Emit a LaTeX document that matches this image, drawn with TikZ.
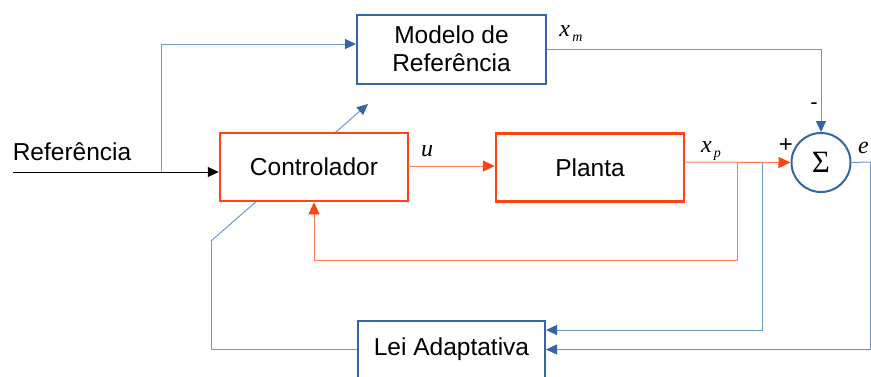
\documentclass[tikz,border=0pt]{standalone}
\usepackage{fontspec}
\setmainfont{Liberation Sans}
\newfontfamily\serifa{Liberation Serif}
\usetikzlibrary{arrows.meta}
\definecolor{azul}{HTML}{3465A4}
\definecolor{azulclaro}{HTML}{6E98CC}
\definecolor{laranja}{HTML}{FF4411}
\definecolor{laranjaclaro}{HTML}{FF7A55}
\newcommand{\var}[2]{\textit{#1}\raisebox{-5pt}{\fontsize{14}{14}\selectfont\,\textit{#2}}}

\begin{document}
\begin{tikzpicture}[x=1pt, y=-1pt,
	bloco/.style={draw, fill=white, line width=2pt, minimum width=188pt, minimum height=68pt, align=center, font=\fontsize{24.5}{28}\selectfont},
	blocoazul/.style={bloco, draw=azul},
	blocolaranja/.style={bloco, draw=laranja, line width=2.5pt},
	fio/.style={line width=1pt},
	fioazul/.style={fio, azulclaro, -{Triangle[length=11pt,width=10pt,color=azul]}},
	fiolaranja/.style={fio, laranjaclaro, -{Triangle[length=12pt,width=11pt,color=laranja]}},
	rotulo/.style={font=\serifa\fontsize{24}{26}\selectfont}]
	\useasboundingbox (0,0) rectangle (871,376);
	\clip (0,0) rectangle (871,376);

	\coordinate (ent) at (13,172);
	\coordinate (ramo) at (161.5,172);
	\coordinate (u0) at (408,166);
	\coordinate (adI) at (211,241);
	\coordinate (adF) at (368,104);
	\coordinate (xpa) at (737,162);
	\coordinate (xpb) at (762,162);
	\coordinate (fim) at (870.5,162);

	\draw[fioazul] (adI) -- (adF);

	\draw (451.5,49) node[blocoazul, minimum width=189pt, minimum height=69pt] (modelo) {Modelo de\\Referência};
	\draw (314,167) node[blocolaranja] (ctrl) {Controlador};
	\draw (590,167.5) node[blocolaranja] (planta) {Planta};
	\draw (451.5,349.5) node[blocoazul, minimum width=187pt, minimum height=58pt] (lei) {Lei Adaptativa};
	\draw (821,162.5) node[circle, draw=azul, fill=white, line width=2pt, minimum size=59pt, font=\serifa\fontsize{31}{32}\selectfont] (soma) {Σ};

	\draw (72,152) node[font=\fontsize{24.5}{28}\selectfont] (ref) {Referência};
	\draw (427,151) node[rotulo] (lu) {\textit{u}};
	\draw (571,33) node[rotulo] (lxm) {\var{x}{m}};
	\draw (711,151) node[rotulo] (lxp) {\var{x}{p}};
	\draw (858,148) node[rotulo, anchor=west, inner sep=0pt] (le) {\textit{e}};
	\draw (814,106) node[font=\fontsize{22}{24}\selectfont] (lmenos) {-};
	\draw (786,146) node[font=\fontsize{24}{24}\selectfont] (lmais) {+};

	\draw[fio, -{Triangle[length=11pt,width=10pt]}] (ent) -- (ent -| ctrl.west);
	\draw[fioazul] (ramo) |- ([yshift=5pt]modelo.west);
	\draw[fiolaranja] (u0) -- (u0 -| planta.west);
	\draw[fiolaranja] (xpa -| planta.east) -- (soma.west);
	\draw[fiolaranja] (xpa) -- (737,260.5) -| (ctrl.south);
	\draw[fioazul] (modelo.east) -| (soma.north);
	\draw[fioazul] (xpb) |- ([yshift=19.5pt]lei.east);
	\draw[fioazul] (soma.east) -- (fim) |- (lei.east);
	\draw[fio, azulclaro] (lei.west) -| (adI);
\end{tikzpicture}
\end{document}
